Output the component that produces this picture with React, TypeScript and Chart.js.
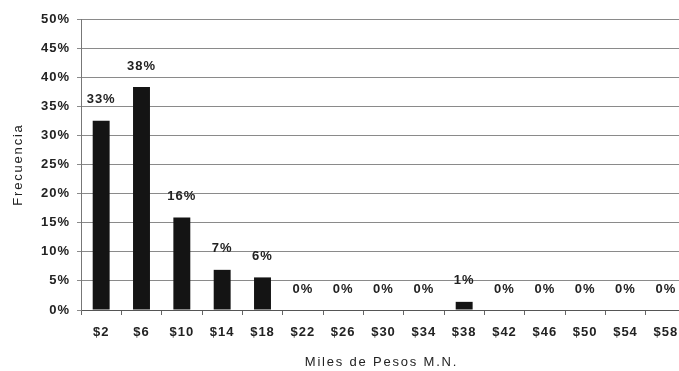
import React, { useEffect, useRef } from "react";
import { Chart, registerables } from "chart.js";

Chart.register(...registerables);

const categories = ["$2", "$6", "$10", "$14", "$18", "$22", "$26", "$30", "$34", "$38", "$42", "$46", "$50", "$54", "$58"];
const frequencies = [32.5, 38.3, 15.9, 6.9, 5.6, 0, 0, 0, 0, 1.4, 0, 0, 0, 0, 0];
const valueLabels = ["33%", "38%", "16%", "7%", "6%", "0%", "0%", "0%", "0%", "1%", "0%", "0%", "0%", "0%", "0%"];
const xTitle = "Miles de Pesos M.N.";
const yTitle = "Frecuencia";

const FONT = "'Liberation Sans', Arial, sans-serif";
const TEXT = "#222222";

const customPlugin = {
  id: "custom",
  beforeUpdate(chart: any) {
    chart.ctx.letterSpacing = "1px";
  },
  beforeDraw(chart: any) {
    chart.ctx.letterSpacing = "1px";
  },
  afterDraw(chart: any) {
    const ctx = chart.ctx;
    const meta = chart.getDatasetMeta(0);
    ctx.save();
    ctx.letterSpacing = "1px";
    ctx.font = `bold 13px ${FONT}`;
    ctx.fillStyle = TEXT;
    ctx.textAlign = "center";
    ctx.textBaseline = "middle";
    meta.data.forEach((bar: any, i: number) => {
      ctx.fillText(valueLabels[i], bar.x, bar.y - 21);
    });
    const area = chart.chartArea;
    ctx.letterSpacing = "1.8px";
    ctx.font = `13px ${FONT}`;
    ctx.fillText(xTitle, (area.left + area.right) / 2 - 2, 362);
    ctx.translate(18, (area.top + area.bottom) / 2);
    ctx.rotate(-Math.PI / 2);
    ctx.fillText(yTitle, 0, 0);
    ctx.restore();
  },
};

export default function App() {
  const ref = useRef<HTMLCanvasElement | null>(null);
  useEffect(() => {
    if (!ref.current) return;
    const chart = new Chart(ref.current, {
      type: "bar",
      data: {
        labels: categories,
        datasets: [
          {
            data: frequencies,
            backgroundColor: "#141414",
            borderWidth: 0,
            barPercentage: 0.42,
            categoryPercentage: 1,
          },
        ],
      },
      options: {
        responsive: false,
        animation: false,
        layout: { padding: { top: 19, right: 14, left: 0, bottom: 0 } },
        plugins: { legend: { display: false }, tooltip: { enabled: false } },
        scales: {
          x: {
            offset: true,
            grid: {
              offset: true,
              drawOnChartArea: false,
              drawTicks: true,
              tickLength: 5,
              color: "#666",
            },
            border: { color: "#555", width: 1 },
            ticks: {
              color: TEXT,
              font: { family: FONT, size: 13, weight: "bold" },
              padding: 10,
              maxRotation: 0,
              autoSkip: false,
            },
            afterFit(scale: any) {
              scale.height = 61;
            },
          },
          y: {
            min: 0,
            max: 50,
            ticks: {
              stepSize: 5,
              color: TEXT,
              font: { family: FONT, size: 13, weight: "bold" },
              padding: 7,
              callback: (v: any) => v + "%",
            },
            grid: { color: "#8a8a8a", tickLength: 4, lineWidth: 1 },
            border: { color: "#777", width: 1 },
            afterFit(scale: any) {
              scale.width = 81;
            },
          },
        },
      },
      plugins: [customPlugin],
    } as any);
    return () => chart.destroy();
  }, []);
  return (
    <div style={{ position: "absolute", left: 0, top: 0, width: 679, height: 371, overflow: "hidden", background: "#fff" }}>
      <canvas ref={ref} width={700} height={371} style={{ display: "block" }} />
    </div>
  );
}
